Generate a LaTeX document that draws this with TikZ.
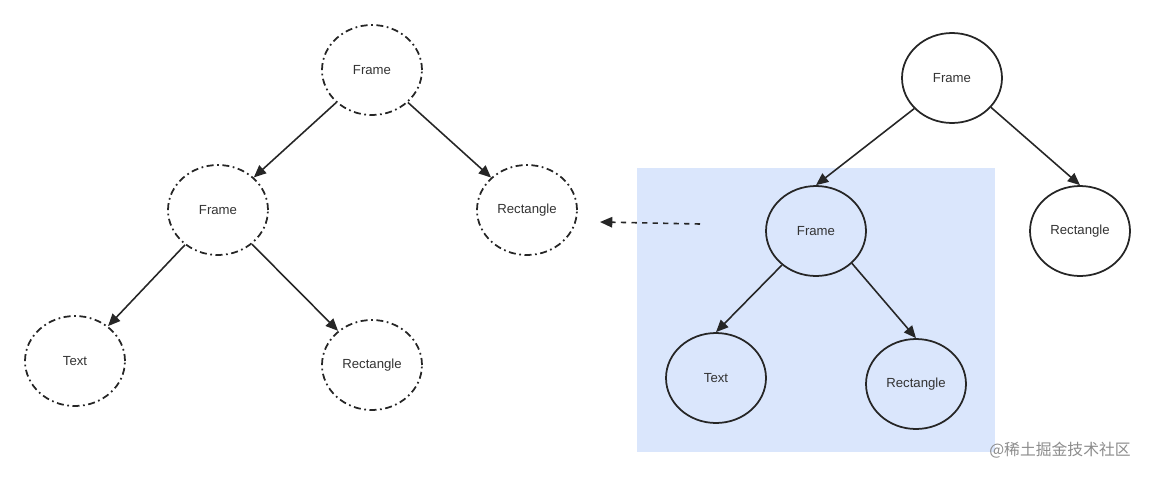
\documentclass[tikz,border=0pt]{standalone}
\usepackage{fontspec}
\setmainfont{Liberation Sans}
\newfontfamily\cjk{Noto Sans CJK SC}
\usetikzlibrary{shapes.geometric,arrows.meta}
\begin{document}
\begin{tikzpicture}[x=0.02cm,y=-0.02cm,
  nd/.style={ellipse,draw=black!85,line width=1pt,minimum width=2cm,minimum height=1.8cm,inner sep=0pt,font=\fontsize{7.5}{9}\selectfont,text=black!80},
  dd/.style={nd,dash pattern=on 4pt off 2pt on 1pt off 2pt},
  ar/.style={-{Triangle[length=7pt,width=6pt]},draw=black!85,line width=0.9pt}]
\useasboundingbox (0,0) rectangle (1156,477);
\fill[fill={rgb,255:red,218;green,230;blue,252}] (637,168) rectangle (995,452);
\node[dd] (f1) at (372,70) {Frame};
\node[dd] (f2) at (218,210) {Frame};
\node[dd] (r1) at (527,210) {Rectangle};
\node[dd] (t1) at (75,361) {Text};
\node[dd] (r2) at (372,365) {Rectangle};
\node[nd] (f3) at (952,78) {Frame};
\node[nd] (f4) at (816,231) {Frame};
\node[nd] (r3) at (1080,231) {Rectangle};
\node[nd] (t2) at (716,378) {Text};
\node[nd] (r4) at (916,384) {Rectangle};
\draw[ar] (f1) -- (f2);
\draw[ar] (f1) -- (r1);
\draw[ar] (f2) -- (t1);
\draw[ar] (f2) -- (r2);
\draw[ar] (f3.219) -- (f4.90);
\draw[ar] (f3.323) -- (r3.90);
\draw[ar] (f4.225) -- (t2.90);
\draw[ar] (f4.318) -- (r4.90);
\coordinate (ds) at (700,224);
\coordinate (de) at (600,222);
\draw[ar,dashed] (ds) -- (de);
\node[font=\cjk\fontsize{9}{11}\selectfont,text=black!45] (wm) at (1060,450) {@稀土掘金技术社区};
\end{tikzpicture}
\end{document}
